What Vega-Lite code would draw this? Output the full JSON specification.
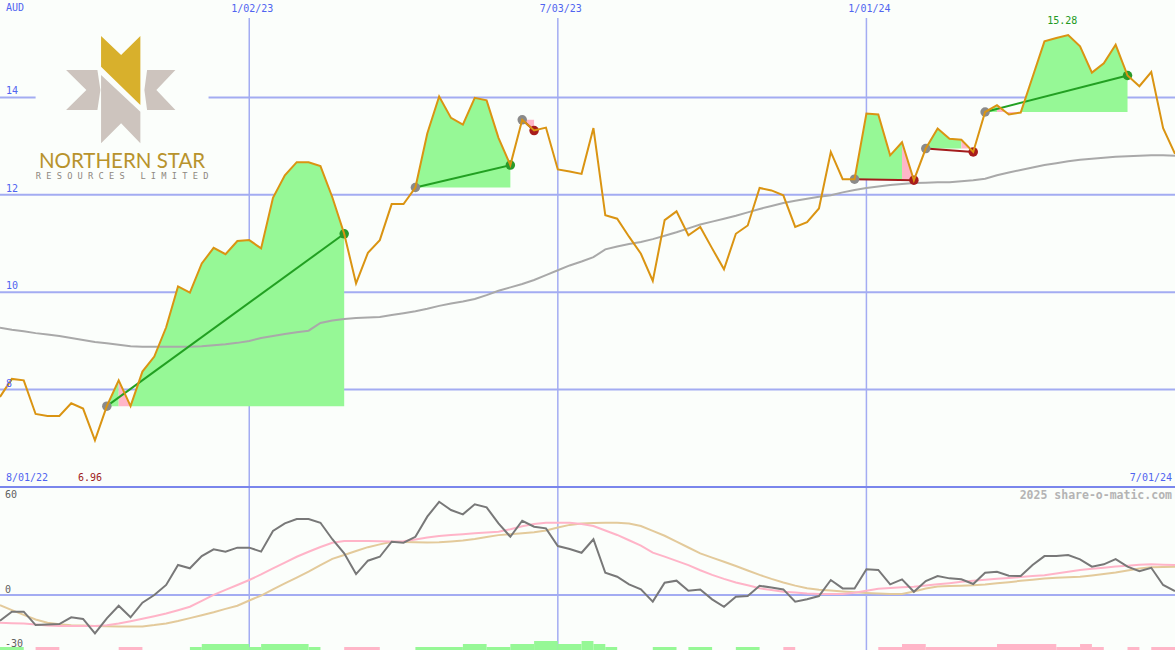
{
  "$schema": "https://vega.github.io/schema/vega-lite/v6.json",
  "padding": 0,
  "spacing": 0,
  "background": "#fbfefb",
  "config": {"view": {"stroke": null}, "concat": {"spacing": 0}},
  "datasets": {
    "wk": [
      {"d":"2022-08-08","p":7.85,"ma":9.27,"osc":-15.6,"s1":-16.8,"s2":-6.1},
      {"d":"2022-08-15","p":8.22,"ma":9.23,"osc":-10.1,"s1":-17.1,"s2":-9.1},
      {"d":"2022-08-22","p":8.19,"ma":9.20,"osc":-10.1,"s1":-17.3,"s2":-12.0},
      {"d":"2022-08-29","p":7.50,"ma":9.16,"osc":-18.2,"s1":-17.8,"s2":-14.8},
      {"d":"2022-09-05","p":7.46,"ma":9.13,"osc":-17.8,"s1":-18.5,"s2":-16.8},
      {"d":"2022-09-12","p":7.46,"ma":9.10,"osc":-17.6,"s1":-18.8,"s2":-17.7},
      {"d":"2022-09-19","p":7.72,"ma":9.06,"osc":-13.5,"s1":-18.8,"s2":-18.3},
      {"d":"2022-09-26","p":7.61,"ma":9.02,"osc":-14.5,"s1":-18.8,"s2":-18.5},
      {"d":"2022-10-03","p":6.96,"ma":8.98,"osc":-23.2,"s1":-18.8,"s2":-18.7},
      {"d":"2022-10-10","p":7.66,"ma":8.95,"osc":-14.1,"s1":-18.3,"s2":-18.9},
      {"d":"2022-10-17","p":8.19,"ma":8.92,"osc":-6.5,"s1":-17.3,"s2":-19.0},
      {"d":"2022-10-24","p":7.66,"ma":8.89,"osc":-13.5,"s1":-15.9,"s2":-19.1},
      {"d":"2022-10-31","p":8.37,"ma":8.88,"osc":-4.6,"s1":-14.4,"s2":-19.0},
      {"d":"2022-11-07","p":8.68,"ma":8.88,"osc":0.0,"s1":-12.8,"s2":-18.2},
      {"d":"2022-11-14","p":9.28,"ma":8.88,"osc":6.1,"s1":-11.2,"s2":-17.2},
      {"d":"2022-11-21","p":10.12,"ma":8.88,"osc":18.2,"s1":-9.2,"s2":-15.7},
      {"d":"2022-11-28","p":9.99,"ma":8.88,"osc":16.2,"s1":-7.1,"s2":-14.0},
      {"d":"2022-12-05","p":10.59,"ma":8.89,"osc":23.6,"s1":-3.5,"s2":-12.2},
      {"d":"2022-12-12","p":10.91,"ma":8.91,"osc":27.7,"s1":0.1,"s2":-10.4},
      {"d":"2022-12-19","p":10.78,"ma":8.93,"osc":26.3,"s1":3.1,"s2":-8.4},
      {"d":"2022-12-26","p":11.05,"ma":8.96,"osc":28.7,"s1":6.1,"s2":-6.5},
      {"d":"2023-01-02","p":11.07,"ma":9.00,"osc":28.7,"s1":9.1,"s2":-3.3},
      {"d":"2023-01-09","p":10.90,"ma":9.06,"osc":26.3,"s1":12.5,"s2":-0.3},
      {"d":"2023-01-16","p":11.94,"ma":9.10,"osc":38.8,"s1":16.1,"s2":3.5},
      {"d":"2023-01-23","p":12.40,"ma":9.14,"osc":43.4,"s1":19.7,"s2":7.1},
      {"d":"2023-01-30","p":12.67,"ma":9.18,"osc":46.1,"s1":23.2,"s2":10.6},
      {"d":"2023-02-06","p":12.67,"ma":9.21,"osc":46.1,"s1":26.2,"s2":14.2},
      {"d":"2023-02-13","p":12.59,"ma":9.37,"osc":43.8,"s1":29.1,"s2":18.1},
      {"d":"2023-02-20","p":11.95,"ma":9.42,"osc":33.8,"s1":31.7,"s2":21.9},
      {"d":"2023-02-27","p":11.20,"ma":9.45,"osc":25.3,"s1":32.7,"s2":24.3},
      {"d":"2023-03-06","p":10.18,"ma":9.47,"osc":12.7,"s1":32.7,"s2":26.7},
      {"d":"2023-03-13","p":10.81,"ma":9.48,"osc":20.8,"s1":32.7,"s2":29.0},
      {"d":"2023-03-20","p":11.07,"ma":9.49,"osc":23.2,"s1":32.6,"s2":30.7},
      {"d":"2023-03-27","p":11.81,"ma":9.53,"osc":32.3,"s1":32.4,"s2":32.3},
      {"d":"2023-04-03","p":11.81,"ma":9.57,"osc":31.7,"s1":32.6,"s2":32.2},
      {"d":"2023-04-10","p":12.15,"ma":9.61,"osc":35.3,"s1":33.7,"s2":32.0},
      {"d":"2023-04-17","p":13.26,"ma":9.66,"osc":47.5,"s1":34.8,"s2":31.8},
      {"d":"2023-04-24","p":14.02,"ma":9.72,"osc":56.5,"s1":35.8,"s2":32.0},
      {"d":"2023-05-01","p":13.58,"ma":9.77,"osc":51.5,"s1":36.4,"s2":32.5},
      {"d":"2023-05-08","p":13.44,"ma":9.81,"osc":48.9,"s1":36.9,"s2":33.1},
      {"d":"2023-05-15","p":13.99,"ma":9.86,"osc":55.0,"s1":37.4,"s2":34.0},
      {"d":"2023-05-22","p":13.94,"ma":9.94,"osc":53.1,"s1":37.9,"s2":35.2},
      {"d":"2023-05-29","p":13.17,"ma":10.03,"osc":43.4,"s1":38.4,"s2":36.3},
      {"d":"2023-06-05","p":12.61,"ma":10.10,"osc":35.3,"s1":39.9,"s2":36.9},
      {"d":"2023-06-12","p":13.54,"ma":10.17,"osc":45.0,"s1":41.7,"s2":37.5},
      {"d":"2023-06-19","p":13.32,"ma":10.25,"osc":41.4,"s1":43.0,"s2":38.1},
      {"d":"2023-06-26","p":13.38,"ma":10.35,"osc":40.4,"s1":43.8,"s2":39.1},
      {"d":"2023-07-03","p":12.52,"ma":10.45,"osc":29.7,"s1":43.8,"s2":40.9},
      {"d":"2023-07-10","p":12.48,"ma":10.55,"osc":27.9,"s1":43.8,"s2":42.5},
      {"d":"2023-07-17","p":12.43,"ma":10.63,"osc":25.6,"s1":43.0,"s2":43.3},
      {"d":"2023-07-24","p":13.37,"ma":10.72,"osc":33.8,"s1":41.8,"s2":43.6},
      {"d":"2023-07-31","p":11.58,"ma":10.88,"osc":13.5,"s1":39.1,"s2":43.8},
      {"d":"2023-08-07","p":11.51,"ma":10.94,"osc":11.1,"s1":36.4,"s2":43.8},
      {"d":"2023-08-14","p":11.14,"ma":10.99,"osc":6.5,"s1":33.2,"s2":43.3},
      {"d":"2023-08-21","p":10.79,"ma":11.03,"osc":3.4,"s1":30.0,"s2":41.8},
      {"d":"2023-08-28","p":10.23,"ma":11.09,"osc":-4.0,"s1":25.7,"s2":38.9},
      {"d":"2023-09-04","p":11.48,"ma":11.16,"osc":7.5,"s1":23.3,"s2":35.9},
      {"d":"2023-09-11","p":11.66,"ma":11.23,"osc":8.7,"s1":20.7,"s2":32.3},
      {"d":"2023-09-18","p":11.17,"ma":11.31,"osc":2.6,"s1":18.1,"s2":28.8},
      {"d":"2023-09-25","p":11.34,"ma":11.39,"osc":3.4,"s1":15.0,"s2":25.2},
      {"d":"2023-10-02","p":10.90,"ma":11.45,"osc":-2.6,"s1":12.2,"s2":22.7},
      {"d":"2023-10-09","p":10.47,"ma":11.51,"osc":-7.1,"s1":9.8,"s2":20.2},
      {"d":"2023-10-16","p":11.20,"ma":11.57,"osc":-1.0,"s1":7.6,"s2":17.6},
      {"d":"2023-10-23","p":11.37,"ma":11.64,"osc":-0.6,"s1":5.9,"s2":14.9},
      {"d":"2023-10-30","p":12.14,"ma":11.71,"osc":5.6,"s1":4.1,"s2":12.2},
      {"d":"2023-11-06","p":12.09,"ma":11.77,"osc":4.6,"s1":3.0,"s2":9.8},
      {"d":"2023-11-13","p":11.99,"ma":11.83,"osc":3.4,"s1":2.0,"s2":7.6},
      {"d":"2023-11-20","p":11.34,"ma":11.88,"osc":-4.0,"s1":1.6,"s2":5.7},
      {"d":"2023-11-27","p":11.44,"ma":11.92,"osc":-2.6,"s1":1.0,"s2":4.1},
      {"d":"2023-12-04","p":11.72,"ma":11.96,"osc":-0.6,"s1":0.6,"s2":3.2},
      {"d":"2023-12-11","p":12.88,"ma":11.99,"osc":9.1,"s1":0.6,"s2":2.7},
      {"d":"2023-12-18","p":12.32,"ma":12.05,"osc":4.0,"s1":0.6,"s2":2.2},
      {"d":"2023-12-25","p":12.32,"ma":12.10,"osc":4.0,"s1":1.4,"s2":1.7},
      {"d":"2024-01-01","p":13.67,"ma":12.14,"osc":15.6,"s1":2.6,"s2":1.3},
      {"d":"2024-01-08","p":13.65,"ma":12.17,"osc":15.2,"s1":3.8,"s2":0.9},
      {"d":"2024-01-15","p":12.81,"ma":12.20,"osc":6.5,"s1":4.3,"s2":0.6},
      {"d":"2024-01-22","p":13.08,"ma":12.22,"osc":9.5,"s1":4.7,"s2":0.6},
      {"d":"2024-01-29","p":12.30,"ma":12.24,"osc":2.0,"s1":5.0,"s2":2.2},
      {"d":"2024-02-05","p":12.95,"ma":12.25,"osc":8.5,"s1":5.8,"s2":3.9},
      {"d":"2024-02-12","p":13.36,"ma":12.26,"osc":11.5,"s1":6.5,"s2":5.1},
      {"d":"2024-02-19","p":13.15,"ma":12.26,"osc":10.1,"s1":7.2,"s2":5.4},
      {"d":"2024-02-26","p":13.13,"ma":12.28,"osc":9.5,"s1":8.0,"s2":5.7},
      {"d":"2024-03-04","p":12.88,"ma":12.30,"osc":6.7,"s1":8.7,"s2":5.9},
      {"d":"2024-03-11","p":13.70,"ma":12.33,"osc":13.5,"s1":9.3,"s2":6.4},
      {"d":"2024-03-18","p":13.84,"ma":12.40,"osc":14.1,"s1":9.8,"s2":7.1},
      {"d":"2024-03-25","p":13.65,"ma":12.46,"osc":11.7,"s1":10.3,"s2":7.8},
      {"d":"2024-04-01","p":13.69,"ma":12.51,"osc":11.5,"s1":10.9,"s2":8.6},
      {"d":"2024-04-08","p":14.42,"ma":12.56,"osc":18.2,"s1":11.5,"s2":9.3},
      {"d":"2024-04-15","p":15.15,"ma":12.61,"osc":23.6,"s1":12.0,"s2":10.0},
      {"d":"2024-04-22","p":15.22,"ma":12.65,"osc":23.6,"s1":13.0,"s2":10.4},
      {"d":"2024-04-29","p":15.28,"ma":12.69,"osc":24.2,"s1":14.1,"s2":10.8},
      {"d":"2024-05-06","p":15.05,"ma":12.72,"osc":21.6,"s1":15.2,"s2":11.1},
      {"d":"2024-05-13","p":14.51,"ma":12.74,"osc":17.2,"s1":15.9,"s2":11.9},
      {"d":"2024-05-20","p":14.70,"ma":12.76,"osc":18.6,"s1":16.6,"s2":12.8},
      {"d":"2024-05-27","p":15.08,"ma":12.78,"osc":21.8,"s1":17.3,"s2":13.7},
      {"d":"2024-06-03","p":14.45,"ma":12.79,"osc":17.2,"s1":17.8,"s2":14.9},
      {"d":"2024-06-10","p":14.23,"ma":12.80,"osc":14.5,"s1":18.3,"s2":16.1},
      {"d":"2024-06-17","p":14.52,"ma":12.81,"osc":16.5,"s1":18.6,"s2":16.9},
      {"d":"2024-06-24","p":13.37,"ma":12.81,"osc":6.1,"s1":18.4,"s2":17.0},
      {"d":"2024-07-01","p":12.84,"ma":12.80,"osc":2.4,"s1":18.2,"s2":17.2}
    ],
    "fills": [
      {"seg":"t1a","res":"gain","base":7.66,"d":"2022-10-10","p":7.66},
      {"seg":"t1a","res":"gain","base":7.66,"d":"2022-10-17","p":8.19},
      {"seg":"t1b","res":"loss","base":7.66,"d":"2022-10-17","p":8.19},
      {"seg":"t1b","res":"loss","base":7.66,"d":"2022-10-24","p":7.66},
      {"seg":"t1c","res":"gain","base":7.66,"d":"2022-10-24","p":7.66},
      {"seg":"t1c","res":"gain","base":7.66,"d":"2022-10-31","p":8.37},
      {"seg":"t1c","res":"gain","base":7.66,"d":"2022-11-07","p":8.68},
      {"seg":"t1c","res":"gain","base":7.66,"d":"2022-11-14","p":9.28},
      {"seg":"t1c","res":"gain","base":7.66,"d":"2022-11-21","p":10.12},
      {"seg":"t1c","res":"gain","base":7.66,"d":"2022-11-28","p":9.99},
      {"seg":"t1c","res":"gain","base":7.66,"d":"2022-12-05","p":10.59},
      {"seg":"t1c","res":"gain","base":7.66,"d":"2022-12-12","p":10.91},
      {"seg":"t1c","res":"gain","base":7.66,"d":"2022-12-19","p":10.78},
      {"seg":"t1c","res":"gain","base":7.66,"d":"2022-12-26","p":11.05},
      {"seg":"t1c","res":"gain","base":7.66,"d":"2023-01-02","p":11.07},
      {"seg":"t1c","res":"gain","base":7.66,"d":"2023-01-09","p":10.90},
      {"seg":"t1c","res":"gain","base":7.66,"d":"2023-01-16","p":11.94},
      {"seg":"t1c","res":"gain","base":7.66,"d":"2023-01-23","p":12.40},
      {"seg":"t1c","res":"gain","base":7.66,"d":"2023-01-30","p":12.67},
      {"seg":"t1c","res":"gain","base":7.66,"d":"2023-02-06","p":12.67},
      {"seg":"t1c","res":"gain","base":7.66,"d":"2023-02-13","p":12.59},
      {"seg":"t1c","res":"gain","base":7.66,"d":"2023-02-20","p":11.95},
      {"seg":"t1c","res":"gain","base":7.66,"d":"2023-02-27","p":11.20},
      {"seg":"t2","res":"gain","base":12.15,"d":"2023-04-10","p":12.15},
      {"seg":"t2","res":"gain","base":12.15,"d":"2023-04-17","p":13.26},
      {"seg":"t2","res":"gain","base":12.15,"d":"2023-04-24","p":14.02},
      {"seg":"t2","res":"gain","base":12.15,"d":"2023-05-01","p":13.58},
      {"seg":"t2","res":"gain","base":12.15,"d":"2023-05-08","p":13.44},
      {"seg":"t2","res":"gain","base":12.15,"d":"2023-05-15","p":13.99},
      {"seg":"t2","res":"gain","base":12.15,"d":"2023-05-22","p":13.94},
      {"seg":"t2","res":"gain","base":12.15,"d":"2023-05-29","p":13.17},
      {"seg":"t2","res":"gain","base":12.15,"d":"2023-06-05","p":12.61},
      {"seg":"t3","res":"loss","base":13.54,"d":"2023-06-12","p":13.54},
      {"seg":"t3","res":"loss","base":13.54,"d":"2023-06-19","p":13.32},
      {"seg":"t4a","res":"gain","base":12.32,"d":"2023-12-25","p":12.32},
      {"seg":"t4a","res":"gain","base":12.32,"d":"2024-01-01","p":13.67},
      {"seg":"t4a","res":"gain","base":12.32,"d":"2024-01-08","p":13.65},
      {"seg":"t4a","res":"gain","base":12.32,"d":"2024-01-15","p":12.81},
      {"seg":"t4a","res":"gain","base":12.32,"d":"2024-01-22","p":13.08},
      {"seg":"t4b","res":"loss","base":12.32,"d":"2024-01-22","p":13.08},
      {"seg":"t4b","res":"loss","base":12.32,"d":"2024-01-29","p":12.30},
      {"seg":"t5a","res":"gain","base":12.95,"d":"2024-02-05","p":12.95},
      {"seg":"t5a","res":"gain","base":12.95,"d":"2024-02-12","p":13.36},
      {"seg":"t5a","res":"gain","base":12.95,"d":"2024-02-19","p":13.15},
      {"seg":"t5a","res":"gain","base":12.95,"d":"2024-02-26","p":13.13},
      {"seg":"t5b","res":"loss","base":12.95,"d":"2024-02-26","p":13.13},
      {"seg":"t5b","res":"loss","base":12.95,"d":"2024-03-04","p":12.88},
      {"seg":"t6a","res":"gain","base":13.70,"d":"2024-03-11","p":13.70},
      {"seg":"t6a","res":"gain","base":13.70,"d":"2024-03-18","p":13.84},
      {"seg":"t6b","res":"loss","base":13.70,"d":"2024-03-18","p":13.84},
      {"seg":"t6b","res":"loss","base":13.70,"d":"2024-03-25","p":13.65},
      {"seg":"t6b","res":"loss","base":13.70,"d":"2024-04-01","p":13.69},
      {"seg":"t6c","res":"gain","base":13.70,"d":"2024-04-01","p":13.69},
      {"seg":"t6c","res":"gain","base":13.70,"d":"2024-04-08","p":14.42},
      {"seg":"t6c","res":"gain","base":13.70,"d":"2024-04-15","p":15.15},
      {"seg":"t6c","res":"gain","base":13.70,"d":"2024-04-22","p":15.22},
      {"seg":"t6c","res":"gain","base":13.70,"d":"2024-04-29","p":15.28},
      {"seg":"t6c","res":"gain","base":13.70,"d":"2024-05-06","p":15.05},
      {"seg":"t6c","res":"gain","base":13.70,"d":"2024-05-13","p":14.51},
      {"seg":"t6c","res":"gain","base":13.70,"d":"2024-05-20","p":14.70},
      {"seg":"t6c","res":"gain","base":13.70,"d":"2024-05-27","p":15.08},
      {"seg":"t6c","res":"gain","base":13.70,"d":"2024-06-03","p":14.45}
    ],
    "trades": [
      {"ed":"2022-10-10","ep":7.66,"xd":"2023-02-27","xp":11.20,"res":"gain"},
      {"ed":"2023-04-10","ep":12.15,"xd":"2023-06-05","xp":12.61,"res":"gain"},
      {"ed":"2023-06-12","ep":13.54,"xd":"2023-06-19","xp":13.32,"res":"loss"},
      {"ed":"2023-12-25","ep":12.32,"xd":"2024-01-29","xp":12.30,"res":"loss"},
      {"ed":"2024-02-05","ep":12.95,"xd":"2024-03-04","xp":12.88,"res":"loss"},
      {"ed":"2024-03-11","ep":13.70,"xd":"2024-06-03","xp":14.45,"res":"gain"}
    ],
    "bars": [
      {"d":"2022-08-08","d2":"2022-08-22","h":1,"dir":"up"},
      {"d":"2022-08-29","d2":"2022-09-12","h":1,"dir":"down"},
      {"d":"2022-10-17","d2":"2022-10-31","h":1,"dir":"down"},
      {"d":"2022-11-28","d2":"2022-12-05","h":1,"dir":"up"},
      {"d":"2022-12-05","d2":"2023-01-02","h":2,"dir":"up"},
      {"d":"2023-01-02","d2":"2023-01-09","h":1,"dir":"up"},
      {"d":"2023-01-09","d2":"2023-02-06","h":2,"dir":"up"},
      {"d":"2023-02-06","d2":"2023-02-13","h":1,"dir":"up"},
      {"d":"2023-02-27","d2":"2023-03-20","h":1,"dir":"down"},
      {"d":"2023-04-10","d2":"2023-05-08","h":1,"dir":"up"},
      {"d":"2023-05-08","d2":"2023-05-22","h":2,"dir":"up"},
      {"d":"2023-05-22","d2":"2023-06-05","h":1,"dir":"up"},
      {"d":"2023-06-05","d2":"2023-06-19","h":2,"dir":"up"},
      {"d":"2023-06-19","d2":"2023-07-03","h":3,"dir":"up"},
      {"d":"2023-07-03","d2":"2023-07-17","h":2,"dir":"up"},
      {"d":"2023-07-17","d2":"2023-07-24","h":3,"dir":"up"},
      {"d":"2023-07-24","d2":"2023-07-31","h":2,"dir":"up"},
      {"d":"2023-07-31","d2":"2023-08-07","h":1,"dir":"up"},
      {"d":"2023-08-28","d2":"2023-09-11","h":1,"dir":"up"},
      {"d":"2023-09-18","d2":"2023-10-02","h":1,"dir":"up"},
      {"d":"2023-10-16","d2":"2023-10-30","h":1,"dir":"up"},
      {"d":"2023-11-13","d2":"2023-11-20","h":1,"dir":"down"},
      {"d":"2024-01-08","d2":"2024-01-22","h":1,"dir":"down"},
      {"d":"2024-01-22","d2":"2024-02-05","h":2,"dir":"down"},
      {"d":"2024-02-05","d2":"2024-03-18","h":1,"dir":"down"},
      {"d":"2024-03-18","d2":"2024-04-22","h":2,"dir":"down"},
      {"d":"2024-04-22","d2":"2024-05-06","h":1,"dir":"down"},
      {"d":"2024-05-06","d2":"2024-05-13","h":2,"dir":"down"},
      {"d":"2024-05-13","d2":"2024-05-20","h":1,"dir":"down"},
      {"d":"2024-06-03","d2":"2024-06-10","h":1,"dir":"down"},
      {"d":"2024-06-17","d2":"2024-07-01","h":1,"dir":"down"}
    ]
  },
  "vconcat": [
    {
      "width": 1175,
      "height": 488,
      "resolve": {"scale": {"color": "independent"}},
      "layer": [
        {
          "data": {"values": [{"v": 8}, {"v": 10}, {"v": 12}, {"v": 14}]},
          "mark": {"type": "rule", "color": "#a3acf2", "strokeWidth": 2, "clip": true},
          "encoding": {"y": {"field": "v", "type": "quantitative", "scale": {"domain": [5.98, 16], "nice": false, "zero": false}, "axis": null}}
        },
        {
          "data": {"values": [{"d": "2023-01-02"}, {"d": "2023-07-03"}, {"d": "2024-01-01"}]},
          "mark": {"type": "rule", "color": "#a3acf2", "strokeWidth": 1.5, "clip": true},
          "encoding": {
            "x": {"field": "d", "type": "temporal", "scale": {"type": "utc", "domain": [{"year": 2022, "month": 8, "date": 8, "utc": true}, {"year": 2024, "month": 7, "date": 1, "utc": true}]}, "axis": null},
            "y": {"datum": 15.63, "type": "quantitative", "scale": {"domain": [5.98, 16], "nice": false, "zero": false}, "axis": null},
            "y2": {"datum": 5.98}
          }
        },
        {
          "data": {"values": [{"v": 6}]},
          "mark": {"type": "rule", "color": "#7a86ec", "strokeWidth": 2, "clip": true},
          "encoding": {"y": {"field": "v", "type": "quantitative", "scale": {"domain": [5.98, 16], "nice": false, "zero": false}, "axis": null}}
        },
        {
          "data": {"values": [{"d": "2022-08-29", "d2": "2022-12-09", "p": 15.42, "p2": 12.26}]},
          "mark": {"type": "rect", "color": "#fbfefb", "clip": true},
          "encoding": {
            "x": {"field": "d", "type": "temporal", "scale": {"type": "utc", "domain": [{"year": 2022, "month": 8, "date": 8, "utc": true}, {"year": 2024, "month": 7, "date": 1, "utc": true}]}, "axis": null},
            "x2": {"field": "d2"},
            "y": {"field": "p", "type": "quantitative", "scale": {"domain": [5.98, 16], "nice": false, "zero": false}, "axis": null},
            "y2": {"field": "p2"}
          }
        },
        {
          "data": {"values": [{"d": "2022-10-18", "p": 14.152}]},
          "mark": {"type": "point", "shape": "M-0.322,-0.9L0.012,-0.583L0.333,-0.9L0.333,0.25L-0.322,-0.388Z", "filled": true, "size": 14400, "color": "#d8b02c", "opacity": 1, "strokeWidth": 0, "clip": true},
          "encoding": {
            "x": {"field": "d", "type": "temporal", "scale": {"type": "utc", "domain": [{"year": 2022, "month": 8, "date": 8, "utc": true}, {"year": 2024, "month": 7, "date": 1, "utc": true}]}, "axis": null},
            "y": {"field": "p", "type": "quantitative", "scale": {"domain": [5.98, 16], "nice": false, "zero": false}, "axis": null}
          }
        },
        {
          "data": {"values": [{"d": "2022-10-18", "p": 14.152}]},
          "mark": {"type": "point", "shape": "M-0.322,-0.25L0.333,0.362L0.333,0.888L0.012,0.555L-0.322,0.888Z M-0.905,-0.333L-0.383,-0.333L-0.333,0L-0.383,0.333L-0.905,0.333L-0.567,0Z M0.445,-0.333L0.917,-0.333L0.6,0L0.917,0.333L0.445,0.333L0.4,0Z", "filled": true, "size": 14400, "color": "#cdc4be", "opacity": 1, "strokeWidth": 0, "clip": true},
          "encoding": {
            "x": {"field": "d", "type": "temporal", "scale": {"type": "utc", "domain": [{"year": 2022, "month": 8, "date": 8, "utc": true}, {"year": 2024, "month": 7, "date": 1, "utc": true}]}, "axis": null},
            "y": {"field": "p", "type": "quantitative", "scale": {"domain": [5.98, 16], "nice": false, "zero": false}, "axis": null}
          }
        },
        {
          "data": {"values": [{"d": "2022-10-19", "p": 12.68, "t": "NORTHERN STAR"}]},
          "mark": {"type": "text", "font": "Lato", "fontSize": 20.5, "color": "#b8932c", "align": "center", "baseline": "middle", "clip": true},
          "encoding": {
            "x": {"field": "d", "type": "temporal", "scale": {"type": "utc", "domain": [{"year": 2022, "month": 8, "date": 8, "utc": true}, {"year": 2024, "month": 7, "date": 1, "utc": true}]}, "axis": null},
            "y": {"field": "p", "type": "quantitative", "scale": {"domain": [5.98, 16], "nice": false, "zero": false}, "axis": null},
            "text": {"field": "t"}
          }
        },
        {
          "data": {"values": [{"d": "2022-10-19", "p": 12.39, "t": "R E S O U R C E S\u00a0\u00a0\u00a0L I M I T E D"}]},
          "mark": {"type": "text", "font": "DejaVu Sans Mono", "fontSize": 8.7, "color": "#8e8880", "align": "center", "baseline": "middle", "clip": true},
          "encoding": {
            "x": {"field": "d", "type": "temporal", "scale": {"type": "utc", "domain": [{"year": 2022, "month": 8, "date": 8, "utc": true}, {"year": 2024, "month": 7, "date": 1, "utc": true}]}, "axis": null},
            "y": {"field": "p", "type": "quantitative", "scale": {"domain": [5.98, 16], "nice": false, "zero": false}, "axis": null},
            "text": {"field": "t"}
          }
        },
        {
          "data": {"name": "fills"},
          "mark": {"type": "area", "opacity": 1, "clip": true},
          "encoding": {
            "x": {"field": "d", "type": "temporal", "scale": {"type": "utc", "domain": [{"year": 2022, "month": 8, "date": 8, "utc": true}, {"year": 2024, "month": 7, "date": 1, "utc": true}]}, "axis": null},
            "y": {"field": "p", "type": "quantitative", "scale": {"domain": [5.98, 16], "nice": false, "zero": false}, "axis": null},
            "y2": {"field": "base"},
            "detail": {"field": "seg"},
            "color": {"field": "res", "type": "nominal", "scale": {"domain": ["gain", "loss"], "range": ["#96f896", "#ffb6c8"]}, "legend": null}
          }
        },
        {
          "data": {"name": "wk"},
          "mark": {"type": "line", "color": "#a9a9a9", "strokeWidth": 2, "clip": true},
          "encoding": {
            "x": {"field": "d", "type": "temporal", "scale": {"type": "utc", "domain": [{"year": 2022, "month": 8, "date": 8, "utc": true}, {"year": 2024, "month": 7, "date": 1, "utc": true}]}, "axis": null},
            "y": {"field": "ma", "type": "quantitative", "scale": {"domain": [5.98, 16], "nice": false, "zero": false}, "axis": null}
          }
        },
        {
          "data": {"name": "trades"},
          "mark": {"type": "rule", "strokeWidth": 2, "clip": true},
          "encoding": {
            "x": {"field": "ed", "type": "temporal", "scale": {"type": "utc", "domain": [{"year": 2022, "month": 8, "date": 8, "utc": true}, {"year": 2024, "month": 7, "date": 1, "utc": true}]}, "axis": null},
            "x2": {"field": "xd"},
            "y": {"field": "ep", "type": "quantitative", "scale": {"domain": [5.98, 16], "nice": false, "zero": false}, "axis": null},
            "y2": {"field": "xp"},
            "color": {"field": "res", "type": "nominal", "scale": {"domain": ["gain", "loss"], "range": ["#22a022", "#a41c1c"]}, "legend": null}
          }
        },
        {
          "data": {"name": "trades"},
          "mark": {"type": "point", "filled": true, "size": 90, "color": "#8a8a8a", "opacity": 1, "clip": true},
          "encoding": {
            "x": {"field": "ed", "type": "temporal", "scale": {"type": "utc", "domain": [{"year": 2022, "month": 8, "date": 8, "utc": true}, {"year": 2024, "month": 7, "date": 1, "utc": true}]}, "axis": null},
            "y": {"field": "ep", "type": "quantitative", "scale": {"domain": [5.98, 16], "nice": false, "zero": false}, "axis": null}
          }
        },
        {
          "data": {"name": "trades"},
          "mark": {"type": "point", "filled": true, "size": 90, "opacity": 1, "clip": true},
          "encoding": {
            "x": {"field": "xd", "type": "temporal", "scale": {"type": "utc", "domain": [{"year": 2022, "month": 8, "date": 8, "utc": true}, {"year": 2024, "month": 7, "date": 1, "utc": true}]}, "axis": null},
            "y": {"field": "xp", "type": "quantitative", "scale": {"domain": [5.98, 16], "nice": false, "zero": false}, "axis": null},
            "color": {"field": "res", "type": "nominal", "scale": {"domain": ["gain", "loss"], "range": ["#2a9a2a", "#a81c1c"]}, "legend": null}
          }
        },
        {
          "data": {"name": "wk"},
          "mark": {"type": "line", "color": "#da9412", "strokeWidth": 2, "clip": true},
          "encoding": {
            "x": {"field": "d", "type": "temporal", "scale": {"type": "utc", "domain": [{"year": 2022, "month": 8, "date": 8, "utc": true}, {"year": 2024, "month": 7, "date": 1, "utc": true}]}, "axis": null},
            "y": {"field": "p", "type": "quantitative", "scale": {"domain": [5.98, 16], "nice": false, "zero": false}, "axis": null}
          }
        },
        {
          "data": {"values": [{"d": "2023-01-02", "t": "1/02/23"}, {"d": "2023-07-03", "t": "7/03/23"}, {"d": "2024-01-01", "t": "1/01/24"}]},
          "mark": {"type": "text", "font": "DejaVu Sans Mono", "fontSize": 10, "color": "#5064f0", "align": "center", "baseline": "middle", "dx": 3},
          "encoding": {
            "x": {"field": "d", "type": "temporal", "scale": {"type": "utc", "domain": [{"year": 2022, "month": 8, "date": 8, "utc": true}, {"year": 2024, "month": 7, "date": 1, "utc": true}]}, "axis": null},
            "y": {"datum": 15.805, "type": "quantitative", "scale": {"domain": [5.98, 16], "nice": false, "zero": false}, "axis": null},
            "text": {"field": "t"}
          }
        },
        {
          "data": {"values": [{"d": "2022-08-08", "p": 15.836, "t": "AUD"}, {"d": "2022-08-08", "p": 6.185, "t": "8/01/22"}]},
          "mark": {"type": "text", "font": "DejaVu Sans Mono", "fontSize": 10, "color": "#5064f0", "align": "left", "baseline": "middle", "dx": 6},
          "encoding": {
            "x": {"field": "d", "type": "temporal", "scale": {"type": "utc", "domain": [{"year": 2022, "month": 8, "date": 8, "utc": true}, {"year": 2024, "month": 7, "date": 1, "utc": true}]}, "axis": null},
            "y": {"field": "p", "type": "quantitative", "scale": {"domain": [5.98, 16], "nice": false, "zero": false}, "axis": null},
            "text": {"field": "t"}
          }
        },
        {
          "data": {"values": [{"d": "2022-08-08", "p": 14, "t": "14"}, {"d": "2022-08-08", "p": 12, "t": "12"}, {"d": "2022-08-08", "p": 10, "t": "10"}, {"d": "2022-08-08", "p": 8, "t": "8"}]},
          "mark": {"type": "text", "font": "DejaVu Sans Mono", "fontSize": 10, "color": "#5064f0", "align": "left", "baseline": "middle", "dx": 6, "dy": -6},
          "encoding": {
            "x": {"field": "d", "type": "temporal", "scale": {"type": "utc", "domain": [{"year": 2022, "month": 8, "date": 8, "utc": true}, {"year": 2024, "month": 7, "date": 1, "utc": true}]}, "axis": null},
            "y": {"field": "p", "type": "quantitative", "scale": {"domain": [5.98, 16], "nice": false, "zero": false}, "axis": null},
            "text": {"field": "t"}
          }
        },
        {
          "data": {"values": [{"d": "2024-07-01", "p": 6.185, "t": "7/01/24"}]},
          "mark": {"type": "text", "font": "DejaVu Sans Mono", "fontSize": 10, "color": "#5064f0", "align": "right", "baseline": "middle", "dx": -3},
          "encoding": {
            "x": {"field": "d", "type": "temporal", "scale": {"type": "utc", "domain": [{"year": 2022, "month": 8, "date": 8, "utc": true}, {"year": 2024, "month": 7, "date": 1, "utc": true}]}, "axis": null},
            "y": {"field": "p", "type": "quantitative", "scale": {"domain": [5.98, 16], "nice": false, "zero": false}, "axis": null},
            "text": {"field": "t"}
          }
        },
        {
          "data": {"values": [{"d": "2022-10-03", "p": 6.185, "t": "6.96"}]},
          "mark": {"type": "text", "font": "DejaVu Sans Mono", "fontSize": 10, "color": "#a01c1c", "align": "center", "baseline": "middle", "dx": -5},
          "encoding": {
            "x": {"field": "d", "type": "temporal", "scale": {"type": "utc", "domain": [{"year": 2022, "month": 8, "date": 8, "utc": true}, {"year": 2024, "month": 7, "date": 1, "utc": true}]}, "axis": null},
            "y": {"field": "p", "type": "quantitative", "scale": {"domain": [5.98, 16], "nice": false, "zero": false}, "axis": null},
            "text": {"field": "t"}
          }
        },
        {
          "data": {"values": [{"d": "2024-04-29", "p": 15.28, "t": "15.28"}]},
          "mark": {"type": "text", "font": "DejaVu Sans Mono", "fontSize": 10, "color": "#229922", "align": "center", "baseline": "middle", "dx": -6, "dy": -14},
          "encoding": {
            "x": {"field": "d", "type": "temporal", "scale": {"type": "utc", "domain": [{"year": 2022, "month": 8, "date": 8, "utc": true}, {"year": 2024, "month": 7, "date": 1, "utc": true}]}, "axis": null},
            "y": {"field": "p", "type": "quantitative", "scale": {"domain": [5.98, 16], "nice": false, "zero": false}, "axis": null},
            "text": {"field": "t"}
          }
        }
      ]
    },
    {
      "width": 1175,
      "height": 162,
      "resolve": {"scale": {"y": "independent", "color": "independent"}},
      "layer": [
        {
          "data": {"values": [{"d": "2023-01-02"}, {"d": "2023-07-03"}, {"d": "2024-01-01"}]},
          "mark": {"type": "rule", "color": "#a3acf2", "strokeWidth": 1.5, "clip": true},
          "encoding": {
            "x": {"field": "d", "type": "temporal", "scale": {"type": "utc", "domain": [{"year": 2022, "month": 8, "date": 8, "utc": true}, {"year": 2024, "month": 7, "date": 1, "utc": true}]}, "axis": null}
          }
        },
        {
          "data": {"values": [{"v": 0}]},
          "mark": {"type": "rule", "color": "#a3acf2", "strokeWidth": 2, "clip": true},
          "encoding": {"y": {"field": "v", "type": "quantitative", "scale": {"domain": [-33.3, 64.85], "nice": false, "zero": false}, "axis": null}}
        },
        {
          "data": {"name": "bars"},
          "mark": {"type": "rect", "clip": true},
          "encoding": {
            "x": {"field": "d", "type": "temporal", "scale": {"type": "utc", "domain": [{"year": 2022, "month": 8, "date": 8, "utc": true}, {"year": 2024, "month": 7, "date": 1, "utc": true}]}, "axis": null},
            "x2": {"field": "d2"},
            "y": {"field": "h", "type": "quantitative", "scale": {"domain": [0, 54], "nice": false, "zero": true}, "axis": null},
            "y2": {"datum": 0},
            "color": {"field": "dir", "type": "nominal", "scale": {"domain": ["up", "down"], "range": ["#96f896", "#ffb6c8"]}, "legend": null}
          }
        },
        {
          "data": {"name": "wk"},
          "mark": {"type": "line", "color": "#e3ca9b", "strokeWidth": 2, "clip": true},
          "encoding": {
            "x": {"field": "d", "type": "temporal", "scale": {"type": "utc", "domain": [{"year": 2022, "month": 8, "date": 8, "utc": true}, {"year": 2024, "month": 7, "date": 1, "utc": true}]}, "axis": null},
            "y": {"field": "s2", "type": "quantitative", "scale": {"domain": [-33.3, 64.85], "nice": false, "zero": false}, "axis": null}
          }
        },
        {
          "data": {"name": "wk"},
          "mark": {"type": "line", "color": "#ffb4c8", "strokeWidth": 2, "clip": true},
          "encoding": {
            "x": {"field": "d", "type": "temporal", "scale": {"type": "utc", "domain": [{"year": 2022, "month": 8, "date": 8, "utc": true}, {"year": 2024, "month": 7, "date": 1, "utc": true}]}, "axis": null},
            "y": {"field": "s1", "type": "quantitative", "scale": {"domain": [-33.3, 64.85], "nice": false, "zero": false}, "axis": null}
          }
        },
        {
          "data": {"name": "wk"},
          "mark": {"type": "line", "color": "#787878", "strokeWidth": 2, "clip": true},
          "encoding": {
            "x": {"field": "d", "type": "temporal", "scale": {"type": "utc", "domain": [{"year": 2022, "month": 8, "date": 8, "utc": true}, {"year": 2024, "month": 7, "date": 1, "utc": true}]}, "axis": null},
            "y": {"field": "osc", "type": "quantitative", "scale": {"domain": [-33.3, 64.85], "nice": false, "zero": false}, "axis": null}
          }
        },
        {
          "data": {"values": [{"d": "2022-08-08", "v": 60, "t": "60"}, {"d": "2022-08-08", "v": -30, "t": "-30"}]},
          "mark": {"type": "text", "font": "DejaVu Sans Mono", "fontSize": 10, "color": "#606060", "align": "left", "baseline": "middle", "dx": 5, "dy": -1},
          "encoding": {
            "x": {"field": "d", "type": "temporal", "scale": {"type": "utc", "domain": [{"year": 2022, "month": 8, "date": 8, "utc": true}, {"year": 2024, "month": 7, "date": 1, "utc": true}]}, "axis": null},
            "y": {"field": "v", "type": "quantitative", "scale": {"domain": [-33.3, 64.85], "nice": false, "zero": false}, "axis": null},
            "text": {"field": "t"}
          }
        },
        {
          "data": {"values": [{"d": "2022-08-08", "v": 0, "t": "0"}]},
          "mark": {"type": "text", "font": "DejaVu Sans Mono", "fontSize": 10, "color": "#606060", "align": "left", "baseline": "middle", "dx": 5, "dy": -5},
          "encoding": {
            "x": {"field": "d", "type": "temporal", "scale": {"type": "utc", "domain": [{"year": 2022, "month": 8, "date": 8, "utc": true}, {"year": 2024, "month": 7, "date": 1, "utc": true}]}, "axis": null},
            "y": {"field": "v", "type": "quantitative", "scale": {"domain": [-33.3, 64.85], "nice": false, "zero": false}, "axis": null},
            "text": {"field": "t"}
          }
        },
        {
          "data": {"values": [{"d": "2024-07-01", "v": 60, "t": "2025 share-o-matic.com"}]},
          "mark": {"type": "text", "font": "DejaVu Sans Mono", "fontSize": 11.5, "fontWeight": "bold", "color": "#b4b4b4", "align": "right", "baseline": "middle", "dx": -3},
          "encoding": {
            "x": {"field": "d", "type": "temporal", "scale": {"type": "utc", "domain": [{"year": 2022, "month": 8, "date": 8, "utc": true}, {"year": 2024, "month": 7, "date": 1, "utc": true}]}, "axis": null},
            "y": {"field": "v", "type": "quantitative", "scale": {"domain": [-33.3, 64.85], "nice": false, "zero": false}, "axis": null},
            "text": {"field": "t"}
          }
        }
      ]
    }
  ]
}
